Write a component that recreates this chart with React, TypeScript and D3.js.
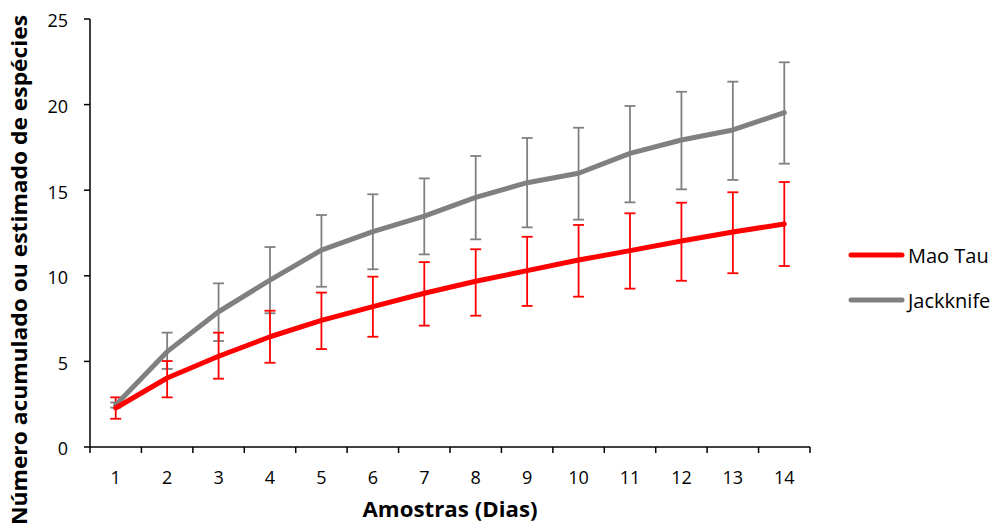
import React from "react";
import * as d3 from "d3";

const days = ["1","2","3","4","5","6","7","8","9","10","11","12","13","14"];
const maoTau = [2.28, 4.03, 5.3, 6.44, 7.4, 8.2, 8.98, 9.68, 10.3, 10.92, 11.47, 12.03, 12.56, 13.03];
const maoTauHi = [2.9, 5.02, 6.68, 7.96, 9.02, 9.95, 10.8, 11.55, 12.28, 12.97, 13.65, 14.27, 14.88, 15.48];
const maoTauLo = [1.65, 2.9, 3.99, 4.92, 5.72, 6.44, 7.09, 7.67, 8.24, 8.78, 9.25, 9.71, 10.15, 10.57];
const jack = [2.45, 5.57, 7.9, 9.75, 11.5, 12.58, 13.49, 14.58, 15.44, 15.99, 17.15, 17.93, 18.52, 19.53];
const jackHi = [2.6, 6.68, 9.56, 11.68, 13.55, 14.76, 15.69, 17.0, 18.05, 18.65, 19.92, 20.75, 21.34, 22.47];
const jackLo = [2.3, 4.56, 6.19, 7.81, 9.36, 10.38, 11.25, 12.13, 12.83, 13.28, 14.29, 15.05, 15.6, 16.55];
const yTicks = [0, 5, 10, 15, 20, 25];

const series = [
  { name: "Mao Tau", color: "#ff0000", v: maoTau, hi: maoTauHi, lo: maoTauLo },
  { name: "Jackknife", color: "#808080", v: jack, hi: jackHi, lo: jackLo },
];

export default function App() {
  const W = 997, H = 529;
  const x0 = 90, x1 = 810, yTop = 19, yBot = 447;
  const x = d3.scaleBand().domain(days).range([x0, x1]);
  const y = d3.scaleLinear().domain([0, 25]).range([yBot, yTop]);
  const cx = (i: number) => (x(days[i]) as number) + x.bandwidth() / 2;
  const line = d3.line<number>().x((_, i) => cx(i)).y((d) => y(d));
  const font = "'Open Sans', sans-serif";
  const boundaries = days.map((d) => x(d) as number).concat([x1]);

  return (
    <svg width={W} height={H} style={{ position: "absolute", left: 0, top: 0, background: "#fff" }} fontFamily={font}>
      <rect width={W} height={H} fill="#fff" />
      {series.slice().reverse().map((s) => (
        <g key={s.name + "err"} stroke={s.color} strokeWidth={1.8}>
          {s.v.map((_, i) => (
            <g key={i}>
              <line x1={cx(i)} x2={cx(i)} y1={y(s.hi[i])} y2={y(s.lo[i])} />
              <line x1={cx(i) - 5.5} x2={cx(i) + 5.5} y1={y(s.hi[i])} y2={y(s.hi[i])} />
              <line x1={cx(i) - 5.5} x2={cx(i) + 5.5} y1={y(s.lo[i])} y2={y(s.lo[i])} />
            </g>
          ))}
        </g>
      ))}
      {series.slice().reverse().map((s) => (
        <path key={s.name} d={line(s.v) as string} fill="none" stroke={s.color} strokeWidth={5} strokeLinejoin="round" strokeLinecap="round" />
      ))}
      <g stroke="#000" strokeWidth={1.5}>
        <line x1={x0} x2={x0} y1={yTop} y2={yBot} />
        <line x1={x0} x2={x1} y1={yBot} y2={yBot} />
        {yTicks.map((t) => (
          <line key={t} x1={x0 - 6} x2={x0} y1={y(t)} y2={y(t)} />
        ))}
        {boundaries.map((b, i) => (
          <line key={i} x1={b} x2={b} y1={yBot} y2={yBot + 6} />
        ))}
      </g>
      {yTicks.map((t) => (
        <text key={t} x={68} y={y(t) + 2} dy="0.35em" textAnchor="end" fontSize={18} fill="#000">{t}</text>
      ))}
      {days.map((d, i) => (
        <text key={d} x={cx(i)} y={484} textAnchor="middle" fontSize={18} fill="#000">{d}</text>
      ))}
      <text x={450} y={517} textAnchor="middle" fontSize={21} fontWeight="bold" fill="#000" textLength={175} lengthAdjust="spacingAndGlyphs">Amostras (Dias)</text>
      <text transform={`translate(27,270) rotate(-90)`} textAnchor="middle" fontSize={21} fontWeight="bold" fill="#000" textLength={510} lengthAdjust="spacingAndGlyphs">
        Número acumulado ou estimado de espécies
      </text>
      {series.map((s, i) => (
        <g key={s.name + "leg"}>
          <line x1={851} x2={902} y1={255 + i * 45} y2={255 + i * 45} stroke={s.color} strokeWidth={5} strokeLinecap="round" />
          <text x={908} y={256 + i * 45} dy="0.35em" fontSize={20} fill="#000">{s.name}</text>
        </g>
      ))}
    </svg>
  );
}
